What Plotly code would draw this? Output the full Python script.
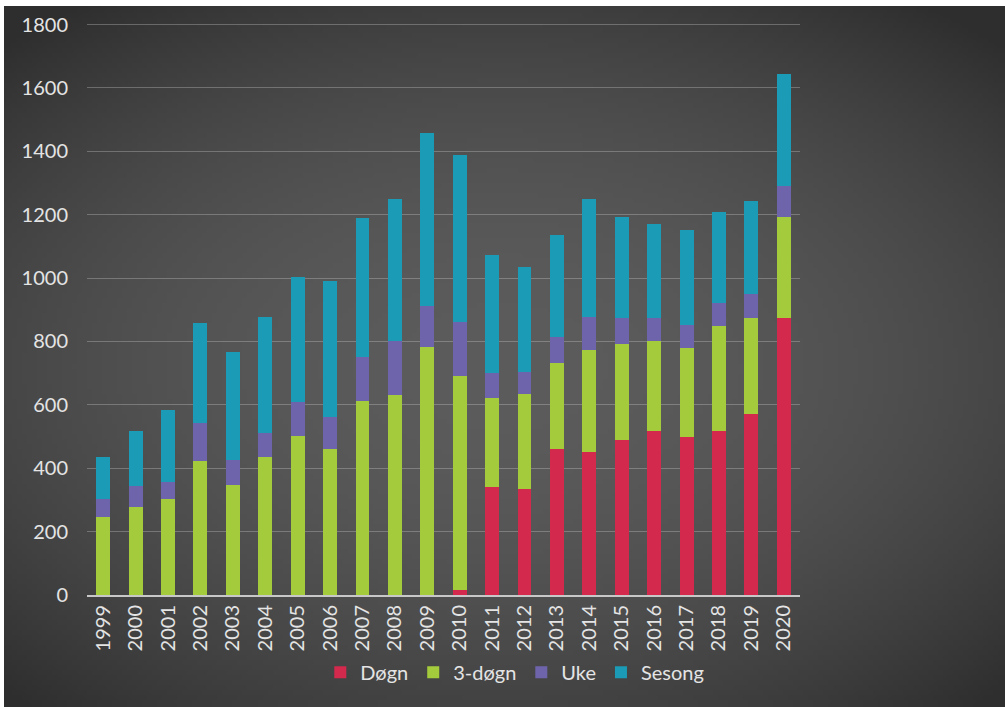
import base64, struct, zlib
import plotly.graph_objects as go

years = [str(y) for y in range(1999, 2021)]
dogn = [0, 0, 0, 0, 0, 0, 0, 0, 0, 0, 0, 15, 341, 336, 462, 450, 489, 519, 497, 519, 572, 874]
tre_dogn = [246, 278, 303, 423, 347, 436, 502, 461, 611, 632, 784, 675, 280, 299, 271, 322, 303, 281, 281, 329, 302, 320]
uke = [57, 66, 54, 120, 79, 76, 107, 101, 139, 171, 128, 171, 79, 69, 81, 106, 82, 74, 74, 72, 76, 95]
sesong = [133, 174, 227, 316, 341, 366, 395, 430, 441, 448, 546, 526, 374, 331, 322, 372, 318, 296, 301, 289, 294, 355]
series_names = ["Døgn", "3-døgn", "Uke", "Sesong"]
y_ticks = list(range(0, 1801, 200))

W, H = 1005, 707
ML, MR, MT, MB = 87, 205, 22, 112
PW, PH = W - ML - MR, H - MT - MB


def vignette_png(w=201, h=141):
    rows = []
    for j in range(h):
        row = bytearray([0])
        fy = j / (h - 1)
        for i in range(w):
            fx = i / (w - 1)
            dx = (fx - 0.5) / 0.68
            dy = (fy - 0.52) / 0.6
            r2 = dx * dx + dy * dy
            v = 92 - 40 * r2
            v = max(46, min(94, v))
            c = int(v)
            row += bytes([c, c, c])
        rows.append(bytes(row))
    raw = b"".join(rows)

    def chunk(t, d):
        return struct.pack(">I", len(d)) + t + d + struct.pack(">I", zlib.crc32(t + d) & 0xFFFFFFFF)

    png = b"\x89PNG\r\n\x1a\n" + chunk(b"IHDR", struct.pack(">IIBBBBB", w, h, 8, 2, 0, 0, 0))
    png += chunk(b"IDAT", zlib.compress(raw, 9)) + chunk(b"IEND", b"")
    return "data:image/png;base64," + base64.b64encode(png).decode()


colors = ["#d3294d", "#a4cb3b", "#6d64ac", "#1b9bb5"]
values = [dogn, tre_dogn, uke, sesong]

fig = go.Figure()
for name, vals, col in zip(series_names, values, colors):
    fig.add_trace(go.Bar(x=years, y=vals, name=name, marker=dict(color=col, line=dict(width=0))))

font_col = "#e4e4e4"
fig.update_layout(
    width=W, height=H,
    barmode="stack", bargap=0.57,
    margin=dict(l=ML, r=MR, t=MT, b=MB),
    paper_bgcolor="#4a4a4a", plot_bgcolor="rgba(0,0,0,0)",
    font=dict(family="Lato, Open Sans, sans-serif", size=20, color=font_col),
    legend=dict(orientation="h", traceorder="normal", x=0.6, xanchor="center", y=-0.135, yanchor="middle",
                font=dict(size=20, color=font_col), bgcolor="rgba(0,0,0,0)",
                itemwidth=30, tracegroupgap=0),
    xaxis=dict(type="category", tickangle=-90, showgrid=False, showline=True,
               linecolor="#c8c8c8", linewidth=2, ticks="", tickfont=dict(size=20, color=font_col)),
    yaxis=dict(range=[0, 1808], tickvals=y_ticks, showgrid=True, gridcolor="rgba(200,200,200,0.35)",
               gridwidth=1, zeroline=False, showline=False, ticks="", ticklabelstandoff=18,
               tickfont=dict(size=20, color=font_col)),
    images=[dict(source=vignette_png(), xref="paper", yref="paper",
                 x=-ML / PW, y=1 + MT / PH, sizex=W / PW, sizey=H / PH,
                 sizing="stretch", layer="below", xanchor="left", yanchor="top")],
    shapes=[
        dict(type="rect", xref="paper", yref="paper", x0=-ML / PW, x1=(W - ML) / PW,
             y0=1 + (MT - 6) / PH, y1=1 + MT / PH, fillcolor="white", line=dict(width=0), layer="above"),
        dict(type="rect", xref="paper", yref="paper", x0=-ML / PW, x1=(4 - ML) / PW,
             y0=-MB / PH, y1=1 + MT / PH, fillcolor="white", line=dict(width=0), layer="above"),
    ],
)

fig.write_html("out.html", config={"displayModeBar": False},
               post_script="document.body.style.margin='0';document.body.style.overflow='hidden';"
                           "document.documentElement.style.background='#3c3c3c';"
                           "document.body.style.background='#3c3c3c';")
